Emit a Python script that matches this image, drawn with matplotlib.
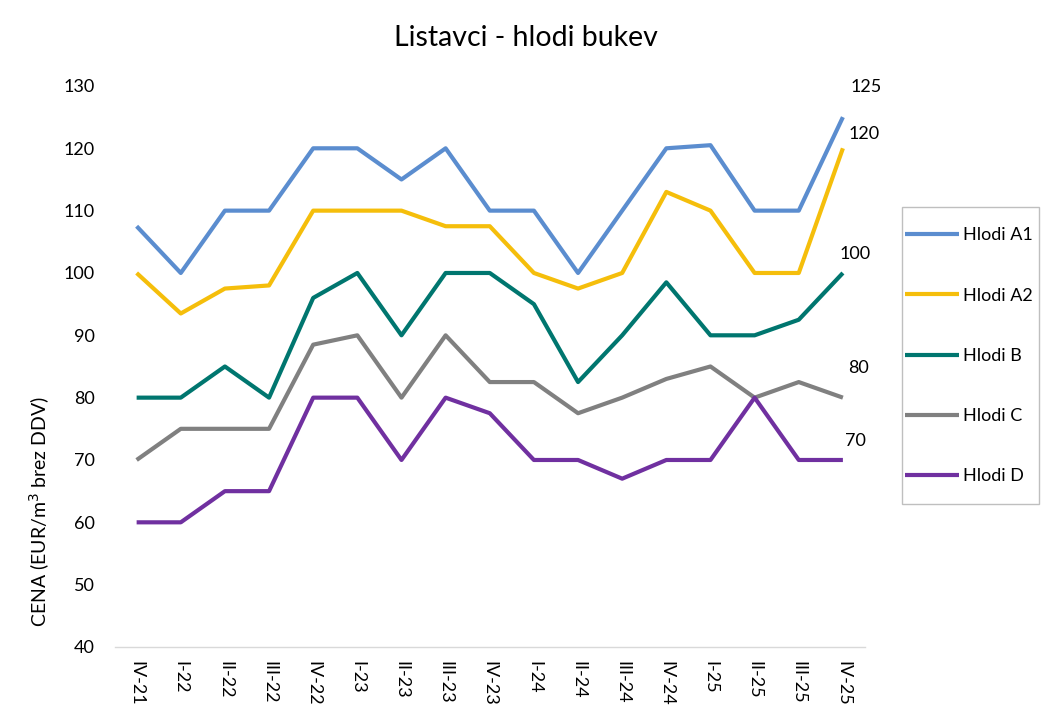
import matplotlib.pyplot as plt
import numpy as np
from matplotlib.patches import Rectangle

plt.rcParams['font.family'] = ['Lato', 'DejaVu Sans']

quarters = ['IV-21', 'I-22', 'II-22', 'III-22', 'IV-22', 'I-23', 'II-23', 'III-23', 'IV-23',
            'I-24', 'II-24', 'III-24', 'IV-24', 'I-25', 'II-25', 'III-25', 'IV-25']

hlodi_a1 = [107.5, 100, 110, 110, 120, 120, 115, 120, 110, 110, 100, 110, 120, 120.5, 110, 110, 125]
hlodi_a2 = [100, 93.5, 97.5, 98, 110, 110, 110, 107.5, 107.5, 100, 97.5, 100, 113, 110, 100, 100, 120]
hlodi_b = [80, 80, 85, 80, 96, 100, 90, 100, 100, 95, 82.5, 90, 98.5, 90, 90, 92.5, 100]
hlodi_c = [70, 75, 75, 75, 88.5, 90, 80, 90, 82.5, 82.5, 77.5, 80, 83, 85, 80, 82.5, 80]
hlodi_d = [60, 60, 65, 65, 80, 80, 70, 80, 77.5, 70, 70, 67, 70, 70, 80, 70, 70]

series = [
    ('Hlodi A1', hlodi_a1, '#5B8DCF', (17, 22)),
    ('Hlodi A2', hlodi_a2, '#F5BE0B', (15, 10)),
    ('Hlodi B', hlodi_b, '#00766F', (9, 14)),
    ('Hlodi C', hlodi_c, '#808080', (11, 21)),
    ('Hlodi D', hlodi_d, '#7030A0', (9, 14)),
]

fig = plt.figure(figsize=(10.51, 7.2), dpi=100)
ax = fig.add_axes([0.109, 0.1014, 0.714, 0.7792])

x = np.arange(len(quarters))
for name, values, color, offset in series:
    ax.plot(x, values, color=color, linewidth=3, label=name, solid_capstyle='butt')
    ax.annotate(f'{values[-1]:g}', (x[-1], values[-1]), xytext=offset,
                textcoords='offset points', ha='center', va='center', fontsize=13)

ax.set_xlim(-0.5, len(quarters) - 0.5)
ax.set_ylim(40, 130)
ax.set_yticks(np.arange(40, 131, 10))
ax.set_xticks(x)
ax.set_xticklabels(quarters, rotation=270, fontsize=13)
ax.tick_params(axis='y', length=0, labelsize=13, pad=14)
ax.tick_params(axis='x', length=0, pad=10)

for side in ['top', 'right', 'left']:
    ax.spines[side].set_visible(False)
ax.spines['bottom'].set_color('#D9D9D9')
ax.spines['bottom'].set_linewidth(1)

fig.text(0.5, 0.947, 'Listavci - hlodi bukev', ha='center', va='center', fontsize=20.5)
fig.text(0.038, 0.29, 'CENA (EUR/m$^3$ brez DDV)', rotation=90, ha='center', va='center', fontsize=14)

# legend box drawn separately so the padding can follow the reference
fig.patches.append(Rectangle((0.858, 0.2995), 0.131, 0.4125, transform=fig.transFigure,
                             facecolor='white', edgecolor='#BFBFBF', linewidth=1))
leg = fig.legend(loc='center left', bbox_to_anchor=(0.861, 0.5056), fontsize=13,
                 handlelength=3.0, handletextpad=0.2, labelspacing=2.45,
                 borderpad=0, borderaxespad=0, frameon=False)

fig.savefig('out.png', dpi=100)
